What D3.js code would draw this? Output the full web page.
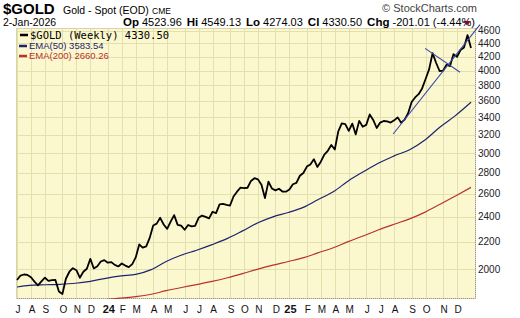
<!DOCTYPE html>
<html lang="en">
<head>
  <meta charset="UTF-8">
  <title>$GOLD Weekly</title>
  <script src="https://d3js.org/d3.v7.min.js"></script>
  <style>
    body { margin: 0; background: #fff; }
    text { font-family: "Liberation Sans", Arial, sans-serif; }
    .ytick { font-size: 10px; fill: #222; }
    .xtick { font-size: 10px; fill: #111; text-anchor: middle; }
    .xtick.year { font-weight: bold; font-size: 11px; }
    .grid line { stroke: #e3dfae; stroke-width: 1; shape-rendering: crispEdges; }
  </style>
</head>
<body>
  <script>
    // weekly closes, first Friday 7-Jul-2023 .. 2-Jan-2026
    const closes = [
      1925, 1955, 1962, 1959, 1943, 1914, 1889, 1915, 1940, 1919, 1924, 1925, 1849,
      1833, 1933, 1981, 2006, 1992, 1940, 1981, 2002, 2072, 2004, 2019, 2053, 2063,
      2045, 2049, 2029, 2018, 2039, 2024, 2013, 2035, 2083, 2179, 2155, 2165, 2230,
      2329, 2344, 2392, 2337, 2301, 2360, 2415, 2334, 2327, 2294, 2333, 2321, 2326,
      2392, 2411, 2400, 2387, 2443, 2431, 2507, 2512, 2503, 2497, 2577, 2621, 2658,
      2653, 2657, 2721, 2747, 2736, 2685, 2563, 2715, 2650, 2633, 2648, 2622, 2621,
      2640, 2690, 2703, 2771, 2798, 2861, 2883, 2936, 2858, 2910, 2984, 3023, 3085,
      3037, 3237, 3327, 3319, 3241, 3325, 3202, 3357, 3289, 3310, 3433, 3368, 3274,
      3337, 3355, 3350, 3337, 3363, 3398, 3336, 3371, 3448, 3586, 3643, 3685, 3760,
      3886, 4018, 4252, 4113, 3996, 4000, 4085, 4065, 4239, 4198, 4300, 4338, 4531,
      4330.5
    ];

    // EMA lines, roughly once a month
    const emaDates = [
      "2023-07-07", "2023-08-01", "2023-09-01", "2023-10-01", "2023-11-01", "2023-12-01",
      "2024-01-01", "2024-02-01", "2024-03-01", "2024-04-01", "2024-05-01", "2024-06-01",
      "2024-07-01", "2024-08-01", "2024-09-01", "2024-10-01", "2024-11-01", "2024-12-01",
      "2025-01-01", "2025-02-01", "2025-03-01", "2025-04-01", "2025-05-01", "2025-06-01",
      "2025-07-01", "2025-08-01", "2025-09-01", "2025-10-01", "2025-11-01", "2025-12-01",
      "2026-01-02"
    ];
    const ema50 = [
      1878, 1889, 1893, 1896, 1903, 1916, 1936, 1952, 1963, 1996, 2053, 2100,
      2136, 2178, 2226, 2285, 2351, 2400, 2437, 2483, 2548, 2620, 2721, 2812,
      2898, 2970, 3035, 3137, 3286, 3416, 3583.54
    ];
    const ema200 = [
      1750, 1757, 1764, 1771, 1778, 1786, 1797, 1807, 1816, 1831, 1854, 1875,
      1894, 1915, 1940, 1968, 1999, 2027, 2053, 2081, 2116, 2154, 2201, 2247,
      2294, 2339, 2383, 2438, 2508, 2580, 2660.26
    ];

    // hand-drawn trendlines: [date, value] end points
    const trendUp = [["2025-07-30", 3206], ["2026-01-20", 4700]];
    const trendDown = [["2025-10-02", 4325], ["2025-12-11", 3978]];

    const yTicks = [2000, 2200, 2400, 2600, 2800, 3000, 3200, 3400, 3600, 3800, 4000, 4200, 4400, 4600];

    const W = 520, H = 318;
    const plot = { left: 16, right: 476, top: 28, bottom: 299 };
    const parse = d3.timeParse("%Y-%m-%d");
    const dates = d3.timeFriday.range(new Date(2023, 6, 7), new Date(2026, 0, 3));
    const prices = dates.map((d, i) => ({ date: d, value: closes[i] }));

    const x = d3.scaleTime()
      .domain([dates[0], dates[dates.length - 1]])
      .range([17, 471]);
    const y = d3.scaleLog()
      .domain([1801, 4644])
      .range([plot.bottom, plot.top]);

    const svg = d3.select("body").append("svg")
      .attr("width", W).attr("height", H);

    svg.append("defs").append("clipPath").attr("id", "clip")
      .append("rect")
      .attr("x", plot.left).attr("y", plot.top)
      .attr("width", plot.right - plot.left).attr("height", plot.bottom - plot.top);

    svg.append("rect")
      .attr("x", plot.left).attr("y", plot.top)
      .attr("width", plot.right - plot.left).attr("height", plot.bottom - plot.top)
      .attr("fill", "#fbf8cf");

    // month starts = first weekly bar of each month (no label on the last bar)
    const monthStarts = dates.filter((d, i) => i > 0 && i < dates.length - 1 ? d.getMonth() !== dates[i - 1].getMonth() : i === 0);

    const grid = svg.append("g").attr("class", "grid");
    grid.selectAll(".v").data(monthStarts).join("line")
      .attr("x1", d => Math.round(x(d)) + 0.5).attr("x2", d => Math.round(x(d)) + 0.5)
      .attr("y1", plot.top).attr("y2", plot.bottom);
    grid.selectAll(".h").data(yTicks).join("line")
      .attr("x1", plot.left).attr("x2", plot.right)
      .attr("y1", d => Math.round(y(d)) + 0.5).attr("y2", d => Math.round(y(d)) + 0.5);

    // frame
    svg.append("rect")
      .attr("x", plot.left + 0.5).attr("y", plot.top + 0.5)
      .attr("width", plot.right - plot.left - 1).attr("height", plot.bottom - plot.top - 1)
      .attr("fill", "none").attr("stroke", "#d8d4a4");
    svg.append("path")
      .attr("d", `M${plot.right - 0.5},${plot.top}V${plot.bottom - 0.5}H${plot.left}`)
      .attr("fill", "none").attr("stroke", "#999").attr("stroke-dasharray", "1,1");

    // y labels on the right
    svg.append("g").selectAll("text").data(yTicks).join("text")
      .attr("class", "ytick")
      .attr("x", 478).attr("y", d => y(d)).attr("dy", "0.35em")
      .text(d => d);

    // month labels
    const fmtMonth = d3.timeFormat("%b");
    svg.append("g").selectAll("text").data(monthStarts).join("text")
      .attr("class", d => d.getMonth() === 0 ? "xtick year" : "xtick")
      .attr("x", d => x(d) + 1).attr("y", 313)
      .text(d => d.getMonth() === 0 ? d3.timeFormat("%y")(d) : fmtMonth(d)[0]);

    const lines = svg.append("g").attr("clip-path", "url(#clip)");
    const emaLine = d3.line().x(d => x(d.date)).y(d => y(d.value)).curve(d3.curveMonotoneX);
    const toPts = arr => arr.map((v, i) => ({ date: parse(emaDates[i]), value: v }));

    lines.append("path").datum(toPts(ema200))
      .attr("d", emaLine).attr("fill", "none").attr("stroke", "#b8322e").attr("stroke-width", 1.2);
    lines.append("path").datum(toPts(ema50))
      .attr("d", emaLine).attr("fill", "none").attr("stroke", "#1c2470").attr("stroke-width", 1.2);
    lines.append("path").datum(prices)
      .attr("d", d3.line().x(d => x(d.date)).y(d => y(d.value)))
      .attr("fill", "none").attr("stroke", "#000").attr("stroke-width", 1.8)
      .attr("stroke-linejoin", "round");

    // trendlines
    [trendUp, trendDown].forEach(t => {
      svg.append("line")
        .attr("x1", x(parse(t[0][0]))).attr("y1", y(t[0][1]))
        .attr("x2", x(parse(t[1][0]))).attr("y2", y(t[1][1]))
        .attr("stroke", "#3a46a8").attr("stroke-width", 1.1);
    });

    // legend
    const legend = [
      { label: "$GOLD (Weekly) 4330.50", color: "#000", font: "'DejaVu Sans Mono', monospace", size: 10.5, y: 35, x0: 20 },
      { label: "EMA(50) 3583.54", color: "#1c2470", font: "'Liberation Sans', Arial, sans-serif", size: 9.5, y: 46, x0: 19 },
      { label: "EMA(200) 2660.26", color: "#b8322e", font: "'Liberation Sans', Arial, sans-serif", size: 9.5, y: 56, x0: 19 }
    ];
    legend.forEach(l => {
      svg.append("line")
        .attr("x1", l.x0).attr("x2", l.x0 + 8).attr("y1", l.y).attr("y2", l.y)
        .attr("stroke", l.color).attr("stroke-width", 2.5);
      svg.append("text")
        .attr("x", l.x0 + 10).attr("y", l.y).attr("dy", "0.35em")
        .attr("fill", l.color)
        .style("font-family", l.font).style("font-size", l.size + "px")
        .text(l.label);
    });

    // header
    svg.append("text").attr("x", 3).attr("y", 14)
      .style("font-weight", "bold").style("font-size", "15px").text("$GOLD");
    svg.append("text").attr("x", 63).attr("y", 14)
      .style("font-size", "10.5px")
      .text("Gold - Spot (EOD)");
    svg.append("text").attr("x", 152).attr("y", 14)
      .style("font-size", "8.5px").text("CME");
    svg.append("text").attr("x", 3).attr("y", 26)
      .style("font-size", "10.5px").text("2-Jan-2026");
    svg.append("text").attr("x", 477).attr("y", 12)
      .attr("text-anchor", "end").attr("fill", "#444")
      .style("font-size", "11px").text("\u00a9 StockCharts.com");

    const ohlc = [["Op", "4523.96"], ["Hi", "4549.13"], ["Lo", "4274.03"], ["Cl", "4330.50"], ["Chg", "-201.01 (-4.44%)"]];
    const row = svg.append("text").attr("x", 123).attr("y", 26).style("font-size", "11px");
    ohlc.forEach((p, i) => {
      row.append("tspan").style("font-weight", "bold").style("font-size", "11.5px")
        .attr("dx", i ? 5 : 0).text(p[0]);
      row.append("tspan").attr("dx", 3).text(p[1]);
    });
    svg.append("path")
      .attr("d", "M463,21L471,21L467,25.5Z").attr("fill", "#7a1030");
  </script>
</body>
</html>
